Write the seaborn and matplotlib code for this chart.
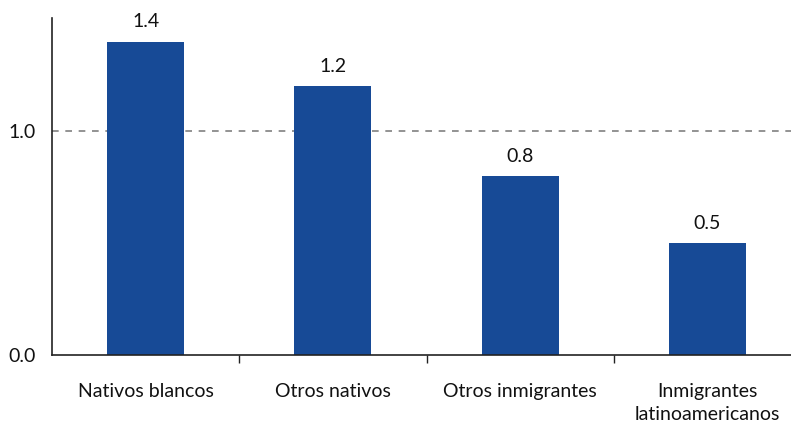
import matplotlib
matplotlib.use("Agg")
import matplotlib.pyplot as plt
import seaborn as sns
import pandas as pd
from matplotlib.ticker import FixedLocator

categories = ["Nativos blancos", "Otros nativos", "Otros inmigrantes",
              "Inmigrantes\nlatinoamericanos"]
values = [1.4, 1.2, 0.8, 0.5]
value_labels = ["1.4", "1.2", "0.8", "0.5"]
y_ticks = [0.0, 1.0]
y_tick_labels = ["0.0", "1.0"]
reference_level = 1.0

sns.set_theme(style="white")
plt.rcParams["font.family"] = ["Lato", "DejaVu Sans"]

df = pd.DataFrame({"grupo": categories, "valor": values})

fig = plt.figure(figsize=(7.91, 4.30), dpi=100)
ax = fig.add_axes([52 / 791, 1 - 355 / 430, 749 / 791, 337 / 430])

ax.axhline(reference_level, color="#808080", linestyle=(0, (4, 4)),
           linewidth=1.2, zorder=0)

sns.barplot(data=df, x="grupo", y="valor", color="#174A96", width=0.41,
            saturation=1, linewidth=0, ax=ax, zorder=2)

for patch, lab in zip(ax.patches, value_labels):
    ax.annotate(lab, (patch.get_x() + patch.get_width() / 2, patch.get_height()),
                xytext=(0, 8), textcoords="offset points",
                ha="center", va="bottom", fontsize=14, color="#111111")

ax.set_xlim(-0.5, 3.5)
ax.set_ylim(0, 1.505)
ax.set_yticks(y_ticks)
ax.set_yticklabels(y_tick_labels)
ax.set_xlabel("")
ax.set_ylabel("")

ax.xaxis.set_minor_locator(FixedLocator([0.5, 1.5, 2.5]))
ax.tick_params(axis="x", which="major", length=0, labelsize=14,
               pad=20, labelcolor="#111111")
ax.tick_params(axis="x", which="minor", bottom=True, length=6, width=1,
               direction="out", color="#222222")
ax.tick_params(axis="y", length=0, labelsize=14, pad=12, labelcolor="#111111")
for t in ax.get_xticklabels():
    t.set_linespacing(1.45)

for side in ["top", "right"]:
    ax.spines[side].set_visible(False)
for side in ["left", "bottom"]:
    ax.spines[side].set_color("#222222")
    ax.spines[side].set_linewidth(1.2)

fig.savefig("out.png", dpi=100)
